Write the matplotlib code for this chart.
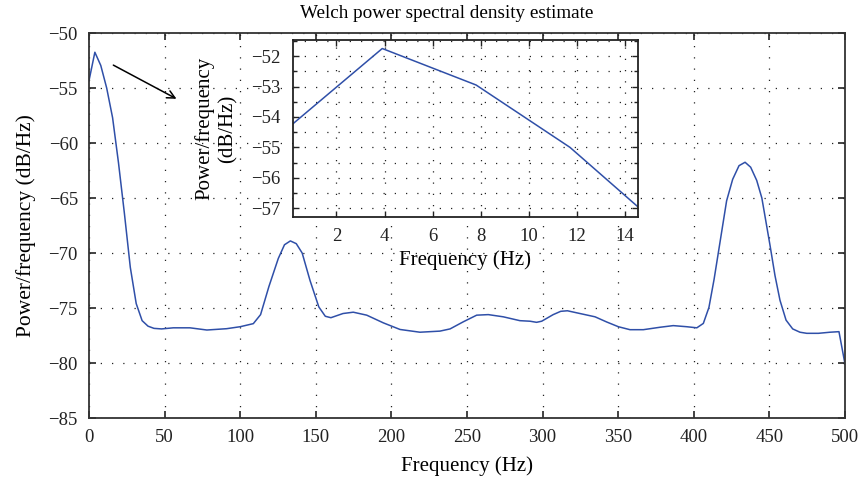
import matplotlib
matplotlib.use("Agg")
import matplotlib.pyplot as plt
from matplotlib.ticker import MultipleLocator

plt.rcParams['font.family'] = ['Liberation Serif', 'DejaVu Serif']

# Frequencies (Hz) and PSD values (dB/Hz)
freq = [0, 3.906, 7.8125, 11.719, 15.625, 19.53, 23.44, 27.34, 31.25, 35.16, 39.06, 43.0,
        48.0, 55.8, 66.8, 78.0, 91.0, 100.0, 108.7, 113.5, 119.0, 125.2, 129.3, 133.2,
        137.1, 141.0, 146.2, 152.0, 156.3, 160.0, 168.0, 174.8, 183.7, 194.7, 205.7,
        218.9, 232.1, 238.8, 247.6, 256.4, 264.1, 274.0, 285.0, 291.7, 296.0, 299.4,
        307.0, 312.0, 316.4, 324.7, 334.7, 342.4, 350.1, 357.8, 366.6, 377.6, 386.4,
        395.3, 402.0, 406.3, 410.0, 413.4, 417.0, 421.7, 425.7, 429.9, 433.9, 437.6,
        441.6, 445.0, 450.4, 453.7, 457.0, 461.0, 465.4, 470.2, 474.7, 482.4, 490.1,
        496.0, 500.0]
psd = [-54.35, -51.75, -52.95, -55.0, -57.7, -61.8, -66.4, -71.3, -74.6, -76.15, -76.65, -76.85,
       -76.9, -76.8, -76.8, -77.0, -76.88, -76.7, -76.42, -75.6, -73.05, -70.5, -69.25, -68.9,
       -69.15, -70.0, -72.5, -74.9, -75.75, -75.88, -75.5, -75.38, -75.65, -76.35, -76.95,
       -77.2, -77.1, -76.9, -76.25, -75.65, -75.6, -75.8, -76.15, -76.2, -76.3, -76.2,
       -75.6, -75.3, -75.25, -75.5, -75.8, -76.27, -76.7, -76.97, -76.97, -76.75, -76.6,
       -76.7, -76.8, -76.4, -74.95, -72.4, -69.3, -65.25, -63.3, -62.06, -61.75, -62.2,
       -63.4, -65.0, -69.3, -72.06, -74.3, -76.1, -76.9, -77.2, -77.3, -77.3, -77.2,
       -77.15, -80.1]

main_xticks = [0, 50, 100, 150, 200, 250, 300, 350, 400, 450, 500]
main_yticks = [-85, -80, -75, -70, -65, -60, -55, -50]
inset_xticks = [2, 4, 6, 8, 10, 12, 14]
inset_yticks = [-57, -56, -55, -54, -53, -52]

title = "Welch power spectral density estimate"
xlabel = "Frequency (Hz)"
ylabel = "Power/frequency (dB/Hz)"
inset_ylabel = "Power/frequency\n(dB/Hz)"

line_color = '#2f4fa8'
grid_kw = dict(color='#222222', linestyle=(0, (1, 8)), linewidth=0.9)

fig = plt.figure(figsize=(8.62, 4.79), dpi=100)
ax = fig.add_axes([0.1032, 0.1273, 0.8771, 0.8038])
ax.plot(freq, psd, color=line_color, linewidth=1.1)
ax.set_xlim(0, 500)
ax.set_ylim(-85, -50)
ax.set_xticks(main_xticks)
ax.set_yticks(main_yticks)
ax.tick_params(direction='in', top=True, right=True, length=5, width=1.2,
               labelsize=13.5, colors='#222222', pad=8)
ax.grid(True, **grid_kw)
for s in ax.spines.values():
    s.set_linewidth(1.3)
    s.set_color('#333333')
ax.set_title(title, fontsize=13.8, pad=11, x=0.4735)
ax.set_xlabel(xlabel, fontsize=15, labelpad=7)
ax.set_ylabel(ylabel, fontsize=15.5, labelpad=9)

ax.annotate('', xy=(59.5, -56.1), xytext=(14.5, -52.8),
            arrowprops=dict(arrowstyle='->', color='black', lw=1.1,
                            mutation_scale=14))

axi = fig.add_axes([0.3399, 0.5470, 0.4002, 0.3695])
axi.plot(freq, psd, color=line_color, linewidth=1.1)
axi.set_xlim(0.19, 14.55)
axi.set_ylim(-57.29, -51.47)
axi.set_xticks(inset_xticks)
axi.set_yticks(inset_yticks)
axi.yaxis.set_minor_locator(MultipleLocator(0.5))
axi.tick_params(which='both', direction='in', top=True, right=True, width=1.0,
                labelsize=13.5, colors='#222222')
axi.tick_params(which='major', length=4)
axi.tick_params(which='minor', length=3)
axi.tick_params(axis='y', which='both', pad=9)
axi.tick_params(axis='x', which='both', pad=8)
axi.grid(True, which='major', **grid_kw)
axi.grid(True, which='minor', axis='y', **grid_kw)
for s in axi.spines.values():
    s.set_linewidth(1.3)
    s.set_color('#222222')
axi.set_xlabel(xlabel, fontsize=15, labelpad=4)
axi.set_ylabel(inset_ylabel, fontsize=15, labelpad=10, linespacing=1.25)

fig.savefig('out.png', dpi=100)
